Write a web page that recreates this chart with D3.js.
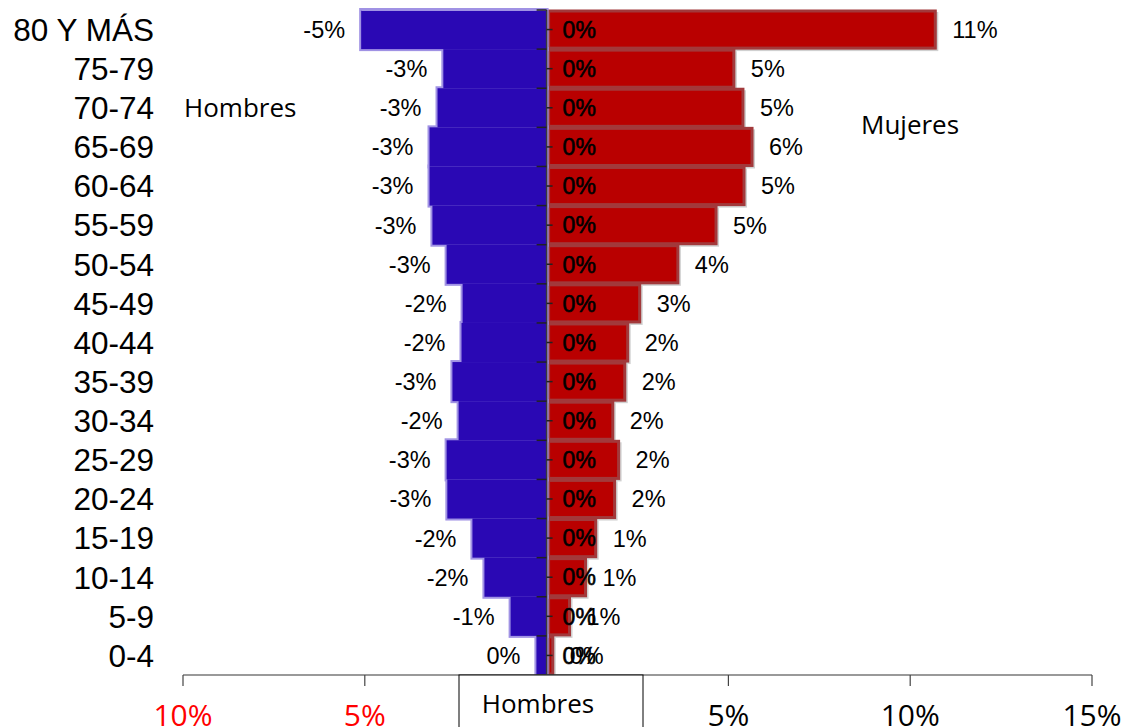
<!DOCTYPE html>
<html><head><meta charset="utf-8">
<script src="https://cdn.jsdelivr.net/npm/d3@7"></script>
<style>body{margin:0;background:#fff}svg{display:block}</style>
</head><body>
<script>
const categories = ["80 Y MÁS","75-79","70-74","65-69","60-64","55-59","50-54","45-49","40-44","35-39","30-34","25-29","20-24","15-19","10-14","5-9","0-4"];
const hombres = [-5.1,-2.84,-3.0,-3.22,-3.22,-3.14,-2.75,-2.31,-2.34,-2.59,-2.42,-2.75,-2.73,-2.04,-1.71,-0.99,-0.28];
const mujeres = [10.69,5.15,5.4,5.65,5.43,4.66,3.61,2.56,2.23,2.15,1.82,1.98,1.87,1.35,1.07,0.63,0.17];
const ceros = [0,0,0,0,0,0,0,0,0,0,0,0,0,0,0,0,0];
const tickValues = [-10,-5,0,5,10,15];

const W=1126,H=727;
const svg=d3.select("body").append("svg").attr("width",W).attr("height",H);
const x=d3.scaleLinear().domain([-10,15]).range([183,1092]);
const y=d3.scaleBand().domain(categories).range([10,675]).padding(0);
const bw=y.bandwidth();
const fmt=v=>{const r=Math.round(v);return (r===0?0:r)+"%";};
const arial="Liberation Sans, Arial, sans-serif";
const calib="Open Sans, sans-serif";

// women bars (red)
const gM=svg.append("g");
gM.selectAll("rect.sh").data(mujeres).join("rect")
  .attr("x",x(0)+3).attr("y",(d,i)=>y(categories[i])+2)
  .attr("width",d=>x(d)-x(0)).attr("height",bw)
  .attr("fill","#d0d0d0");
gM.selectAll("rect.b").data(mujeres).join("rect")
  .attr("x",x(0)+2).attr("y",(d,i)=>y(categories[i])+1)
  .attr("width",d=>x(d)-x(0)-2).attr("height",bw-2)
  .attr("fill","#b90000").attr("stroke","#a2393b").attr("stroke-width",3);

// men bars (blue)
const gH=svg.append("g");
gH.selectAll("rect.o").data(hombres).join("rect")
  .attr("x",d=>x(d)).attr("y",(d,i)=>y(categories[i]))
  .attr("width",d=>x(0)-x(d)).attr("height",bw)
  .attr("fill","#2a08b4").attr("stroke","#a092e4").attr("stroke-width",4);
gH.selectAll("rect.f").data(hombres).join("rect")
  .attr("x",d=>x(d)).attr("y",(d,i)=>y(categories[i]))
  .attr("width",d=>x(0)-x(d)).attr("height",bw)
  .attr("fill","#2a08b4");
gH.append("line").attr("x1",x(hombres[0])).attr("x2",x(0)).attr("y1",y(categories[0])).attr("y2",y(categories[0]))
  .attr("stroke","#a092e4").attr("stroke-width",2);

// center axis
const cx=x(0);
svg.append("line").attr("x1",cx).attr("x2",cx).attr("y1",10).attr("y2",675).attr("stroke","#3a3a3a").attr("stroke-width",1.5);
svg.selectAll("line.bt").data(categories).join("line")
  .attr("x1",cx-10).attr("x2",cx).attr("y1",d=>y(d)+bw).attr("y2",d=>y(d)+bw)
  .attr("stroke","#222").attr("stroke-width",1.5);
svg.append("line").attr("x1",cx-10).attr("x2",cx).attr("y1",10).attr("y2",10).attr("stroke","#222").attr("stroke-width",1.5);
svg.selectAll("line.mt").data(categories).join("line")
  .attr("x1",cx).attr("x2",cx+6).attr("y1",d=>y(d)+bw/2).attr("y2",d=>y(d)+bw/2)
  .attr("stroke","#222").attr("stroke-width",1.5);

// value labels
svg.selectAll("text.hl").data(hombres).join("text")
  .attr("x",d=>x(d)-16).attr("y",(d,i)=>y(categories[i])+bw/2).attr("dy","0.36em")
  .attr("text-anchor","end").style("font-family",arial).style("font-size","23.5px").text(d=>fmt(d));
svg.selectAll("text.ml").data(mujeres).join("text")
  .attr("x",d=>x(d)+17).attr("y",(d,i)=>y(categories[i])+bw/2).attr("dy","0.36em")
  .style("font-family",arial).style("font-size","23.5px").text(d=>fmt(d));
svg.selectAll("text.zl").data(ceros).join("text")
  .attr("x",d=>x(d)+16).attr("y",(d,i)=>y(categories[i])+bw/2).attr("dy","0.36em")
  .style("font-family",arial).style("font-size","23px")
  .attr("stroke","#000").attr("stroke-width",0.6).text(d=>fmt(d));

// category labels
svg.selectAll("text.cat").data(categories).join("text")
  .attr("x",154).attr("y",d=>y(d)+bw/2).attr("dy","0.36em").attr("text-anchor","end")
  .style("font-family",arial).style("font-size","31.5px").text(d=>d);

// bottom axis
const ax=svg.append("g").attr("transform","translate(0,675)");
ax.append("line").attr("x1",x(-10)).attr("x2",x(15)).attr("stroke","#777").attr("stroke-width",1.5);
ax.selectAll("line.t").data(tickValues).join("line")
  .attr("x1",d=>x(d)).attr("x2",d=>x(d)).attr("y1",0).attr("y2",11).attr("stroke","#444").attr("stroke-width",1.2);
ax.selectAll("text.t").data(tickValues.filter(d=>d!==0)).join("text")
  .attr("x",d=>x(d)).attr("y",51).attr("text-anchor","middle")
  .style("font-family",calib).style("font-size","30px")
  .attr("fill",d=>d<0?"#ff0000":"#000").text(d=>Math.abs(d)+"%");

// box
svg.append("rect").attr("x",459).attr("y",675).attr("width",184).attr("height",60)
  .attr("fill","#fff").attr("stroke","#000").attr("stroke-width",1);
svg.append("text").attr("x",538).attr("y",713).attr("text-anchor","middle")
  .style("font-family",calib).style("font-size","26px").text("Hombres");

svg.append("text").attr("x",184).attr("y",117)
  .style("font-family",calib).style("font-size","26px").text("Hombres");
svg.append("text").attr("x",861).attr("y",134)
  .style("font-family",calib).style("font-size","26px").text("Mujeres");
</script>
</body></html>
